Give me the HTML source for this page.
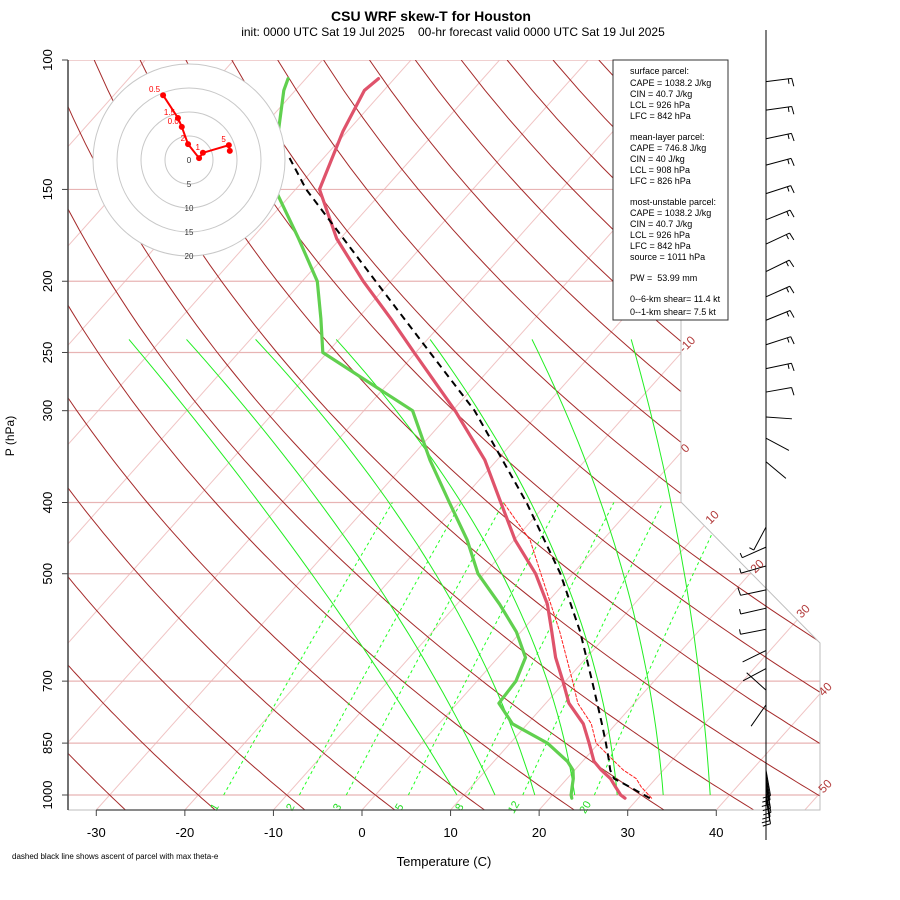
<!DOCTYPE html>
<html><head><meta charset="utf-8"><style>
html,body{margin:0;padding:0;background:#fff;}
svg{display:block;font-family:"Liberation Sans",sans-serif;}
</style></head><body>
<svg id="chart" width="900" height="900" viewBox="0 0 900 900" xmlns="http://www.w3.org/2000/svg">
<defs><clipPath id="plotclip"><polygon points="68,60 681,60 681,502 820,643 820,810 68,810"/></clipPath></defs>
<rect x="0" y="0" width="900" height="900" fill="#fff"/>
<g id="bg" clip-path="url(#plotclip)"></g>
<polyline points="681,60 681,502 820,643 820,810 68,810" fill="none" stroke="#bebebe" stroke-width="1"/>
<g id="labels"></g>
<g id="traces" clip-path="url(#plotclip)"></g>
<g id="axes"></g>
<g id="hodo"></g>
<g id="barbs"></g>

<text x="431" y="21" text-anchor="middle" font-size="14" font-weight="bold">CSU WRF skew-T for Houston</text>
<text x="453" y="36" text-anchor="middle" font-size="12" xml:space="preserve">init: 0000 UTC Sat 19 Jul 2025    00-hr forecast valid 0000 UTC Sat 19 Jul 2025</text>
<text x="444" y="866" text-anchor="middle" font-size="13">Temperature (C)</text>
<text x="0" y="0" transform="translate(14,436) rotate(-90)" text-anchor="middle" font-size="12">P (hPa)</text>
<text x="12" y="859" font-size="8">dashed black line shows ascent of parcel with max theta-e</text>

<g>
<rect x="613" y="60" width="115" height="260" fill="#fff" stroke="#333" stroke-width="1"/>
<g font-size="9" fill="#000">
<text x="630" y="74">surface parcel:</text>
<text x="630" y="86">CAPE = 1038.2 J/kg</text>
<text x="630" y="97">CIN = 40.7 J/kg</text>
<text x="630" y="108">LCL = 926 hPa</text>
<text x="630" y="119">LFC = 842 hPa</text>
<text x="630" y="140">mean-layer parcel:</text>
<text x="630" y="151">CAPE = 746.8 J/kg</text>
<text x="630" y="162">CIN = 40 J/kg</text>
<text x="630" y="173">LCL = 908 hPa</text>
<text x="630" y="184">LFC = 826 hPa</text>
<text x="630" y="205">most-unstable parcel:</text>
<text x="630" y="216">CAPE = 1038.2 J/kg</text>
<text x="630" y="227">CIN = 40.7 J/kg</text>
<text x="630" y="238">LCL = 926 hPa</text>
<text x="630" y="249">LFC = 842 hPa</text>
<text x="630" y="260">source = 1011 hPa</text>
<text x="630" y="281" xml:space="preserve">PW =  53.99 mm</text>
<text x="630" y="302">0--6-km shear= 11.4 kt</text>
<text x="630" y="315">0--1-km shear= 7.5 kt</text>
</g></g>

<script>
// ---- data ----
const pressureLevels = [100,150,200,250,300,400,500,700,850,1000];
const tempTicks = [-30,-20,-10,0,10,20,30,40];
const thetaLabels = [-10,0,10,20,30,40,50];
const mixRatios = [1,2,3,5,8,12,20];
const moistBottomT = [9.2,13.5,18.0,22.5,27.3,32.5,37.8];
const moistMidT = [-29.5,-22.9,-15.5,-8.0,-1.1,5.7,12.6];
const moistTopT = [-73.7,-67.2,-59.4,-50.3,-39.7,-28.2,-17.0];

const profP  = [1010,1000,975,950,925,900,850,800,750,700,650,600,550,500,450,400,350,300,250,225,200,175,150,125,110,106];
const profT  = [28.5,27.7,26.3,24.9,23.0,21.3,18.9,16.3,12.6,9.7,6.5,3.5,0.2,-4.2,-9.9,-15.3,-21.4,-29.7,-40.2,-46.2,-53.1,-60.4,-67.3,-70.5,-72.2,-71.8];
const profTd = [22.5,22.1,21.4,20.7,19.8,18.3,14.2,8.3,4.7,4.4,3.1,-0.5,-5.2,-10.7,-15.3,-21.1,-27.6,-34.5,-50.5,-54.1,-58.3,-64.7,-72.3,-77.8,-81.3,-82.0];

const parcelP = [1010,975,950,925,900,850,800,750,700,600,500,400,300,250,200,150,135];
const parcelT = [31.3,27.9,25.3,24.0,23.0,20.8,18.4,15.8,13.0,6.7,-1.4,-12.4,-27.5,-38.4,-51.7,-68.8,-74.2];

const virtP = [1010,975,950,925,900,850,800,750,700,600,500,450,400];
const virtT = [31.5,29.2,27.8,25.5,23.6,19.7,17.2,13.6,10.8,4.4,-3.6,-8.2,-15.0];

const hodoU = [8.5,8.3,2.9,2.1,-0.2,-1.5,-2.3,-5.4];
const hodoV = [1.9,3.1,1.5,0.4,3.3,6.9,8.75,13.5];
const hodoLabels = ["","5","1","","2","0.0","1.5","0.5"];
const hodoRings = [5,10,15,20];

const barbP   = [107,117,128,139,152,165,178,194,210,226,244,263,283,306,327,352,405,432,460,488,526,557,595,636,673,720,754,925,937,950,962,975,988,1000,1010];
const barbDir = [83,82,78,75,72,68,65,64,66,68,72,78,80,94,118,130,0,208,246,254,258,257,259,244,242,312,215,170,171,172,170,169,171,172,170];
const barbSpd = [15,15,15,15,15,15,15,15,15,15,15,15,10,3,3,3,3,5,5,5,10,5,5,3,3,3,3,10,10,10,10,10,10,10,10];

// ---- scales ----
const NS = "http://www.w3.org/2000/svg";
function P2Y(p){ return 60 + 319.2*Math.log(p/100); }
function TX(T,y){ return 362 + 8.857*T + 0.892*(810 - y); }
function mk(tag, attrs, parent){ const e=document.createElementNS(NS,tag); for(const k in attrs) e.setAttribute(k,attrs[k]); parent.appendChild(e); return e; }
const bg=document.getElementById('bg'), labels=document.getElementById('labels'), traces=document.getElementById('traces'), axes=document.getElementById('axes'), hodo=document.getElementById('hodo'), barbs=document.getElementById('barbs');

// isotherms
for(let T=-160; T<=60; T+=10){
  const l=mk('line',{x1:TX(T,810),y1:810,x2:TX(T,40),y2:40,stroke:'#f0c4c4','stroke-width':1},bg);
  
  
}
// pressure lines
pressureLevels.forEach(p=>{
  const y=P2Y(p);
  const l=mk('line',{x1:68,y1:y,x2:820,y2:y,stroke:'#e8b4b4','stroke-width':1.2},bg);
  
  
});
// dry adiabats
for(let th=-30; th<=200; th+=10){
  let pts=[];
  for(let p=1060; p>=95; p-=10){ const T=(th+273.15)*Math.pow(p/1000,0.2857)-273.15; const y=P2Y(p); pts.push(TX(T,y).toFixed(1)+','+y.toFixed(1)); }
  const l=mk('polyline',{points:pts.join(' '),fill:'none',stroke:'#a52a2a','stroke-width':1},bg);
  
  
}
// mixing ratio lines
function tdFromW(p,w){ const e=w*p/(622+w); const a=Math.log(e/6.112); return 243.5*a/(17.67-a); }
mixRatios.forEach(w=>{
  let pts=[];
  for(let p=1000;p>=400;p-=20){ const y=P2Y(p); pts.push(TX(tdFromW(p,w),y).toFixed(1)+','+y.toFixed(1)); }
  const l=mk('polyline',{points:pts.join(' '),fill:'none',stroke:'#22ff22','stroke-width':1,'stroke-dasharray':'3,3'},bg);
  
  
  const y0=P2Y(1000), x0=TX(tdFromW(1000,w),y0);
  const t=mk('text',{x:0,y:0,transform:`translate(${x0-6},${y0+14}) rotate(-60)`,'font-size':11,fill:'#22dd22','text-anchor':'middle'},labels);
  t.textContent=w;
  
  
});
// moist adiabats
moistBottomT.forEach((tb,i)=>{
  const ys=[P2Y(1000),P2Y(500),P2Y(240)];
  const xs=[TX(tb,ys[0]),TX(moistMidT[i],ys[1]),TX(moistTopT[i],ys[2])];
  let pts=[];
  for(let k=0;k<=40;k++){
    const y=ys[0]+(ys[2]-ys[0])*k/40;
    let x=0;
    for(let a=0;a<3;a++){ let L=1; for(let b=0;b<3;b++){ if(a!==b) L*=(y-ys[b])/(ys[a]-ys[b]); } x+=L*xs[a]; }
    pts.push(x.toFixed(1)+','+y.toFixed(1));
  }
  const l=mk('polyline',{points:pts.join(' '),fill:'none',stroke:'#22ee22','stroke-width':1},bg);
  
  
});
// theta labels
const thetaPos={'-10':[690,343],'0':[688,447],'10':[715,516],'20':[760,565],'30':[806,610],'40':[828,688],'50':[828,785]};
thetaLabels.forEach(th=>{
  const [x,y]=thetaPos[th];
  const t=mk('text',{x:0,y:0,transform:`translate(${x},${y+4}) rotate(-45)`,'font-size':12,fill:'#b23a3a','text-anchor':'middle'},labels);
  t.textContent=th;
  
  
});

// traces
function line(P,T,attrs,name){
  const pts=P.map((p,i)=>{ const y=P2Y(p); return TX(T[i],y).toFixed(1)+','+y.toFixed(1); });
  const l=mk('polyline',Object.assign({points:pts.join(' '),fill:'none','stroke-linejoin':'round','stroke-linecap':'round'},attrs),traces);
  
  
}
line(virtP,virtT,{stroke:'#ff2020','stroke-width':1,'stroke-dasharray':'3,2'},'parcel-virtual-temperature-line');
line(profP,profTd,{stroke:'#61D04F','stroke-width':3.2},'dewpoint-line');
line(profP,profT,{stroke:'#DF536B','stroke-width':3.2},'temperature-line');
line(parcelP,parcelT,{stroke:'#000','stroke-width':2,'stroke-dasharray':'7,5','stroke-linecap':'butt'},'parcel-ascent-line');

// axes
mk('line',{x1:68,y1:60,x2:68,y2:810,stroke:'#444','stroke-width':1.5},axes);
pressureLevels.forEach(p=>{
  const y=P2Y(p);
  mk('line',{x1:62,y1:y,x2:68,y2:y,stroke:'#444','stroke-width':1},axes);
  const t=mk('text',{x:0,y:0,transform:`translate(52,${y}) rotate(-90)`,'font-size':13,'text-anchor':'middle'},axes);
  t.textContent=p;
  
  
});
mk('line',{x1:TX(-30,810),y1:810,x2:TX(40,810),y2:810,stroke:'#444','stroke-width':1.2},axes);
tempTicks.forEach(T=>{
  const x=TX(T,810);
  mk('line',{x1:x,y1:810,x2:x,y2:816,stroke:'#444','stroke-width':1},axes);
  const t=mk('text',{x:x,y:837,'font-size':13,'text-anchor':'middle'},axes);
  t.textContent=T;
  
  
});

// hodograph
const HC=[189,160], HS=4.8;
mk('circle',{cx:HC[0],cy:HC[1],r:96,fill:'#fff',stroke:'none'},hodo);
hodoRings.forEach(r=>{
  const c=mk('circle',{cx:HC[0],cy:HC[1],r:r*HS,fill:'none',stroke:'#c8c8c8','stroke-width':1},hodo);
  
  
  const t=mk('text',{x:HC[0],y:HC[1]+r*HS+3,'font-size':8,'text-anchor':'middle',fill:'#333'},hodo);
  t.textContent=r;
});
{ const t=mk('text',{x:HC[0],y:HC[1]+3,'font-size':8,'text-anchor':'middle',fill:'#333'},hodo); t.textContent='0'; }
const hpts=hodoU.map((u,i)=>[HC[0]+u*HS, HC[1]-hodoV[i]*HS]);
{ const l=mk('polyline',{points:hpts.map(p=>p.join(',')).join(' '),fill:'none',stroke:'#ff0000','stroke-width':2},hodo);
  
   }
hpts.forEach((p,i)=>{
  const c=mk('circle',{cx:p[0],cy:p[1],r:3,fill:'#ff0000'},hodo);
  
  
  if(hodoLabels[i]){ const t=mk('text',{x:p[0]-3,y:p[1]-3,'font-size':8,'text-anchor':'end',fill:'#ff0000'},hodo); t.textContent=hodoLabels[i]; }
});

// wind barbs
mk('line',{x1:766,y1:30,x2:766,y2:840,stroke:'#000','stroke-width':1},barbs);
barbP.forEach((p,i)=>{
  const y=P2Y(p), x=766, d=barbDir[i]*Math.PI/180, L=26;
  const dx=Math.sin(d), dy=-Math.cos(d);
  const tx=x+dx*L, ty=y+dy*L;
  const g=mk('g',{stroke:'#000','stroke-width':1,fill:'none'},barbs);
  
  
  mk('line',{x1:x,y1:y,x2:tx,y2:ty},g);
  let s=barbSpd[i], k=0;
  const px=-dy, py=dx;
  while(s>=10){ const bx=tx-dx*k*3.5, by=ty-dy*k*3.5; mk('line',{x1:bx,y1:by,x2:bx+px*8+dx*1,y2:by+py*8+dy*1},g); s-=10; k++; }
  if(s>=5){ const bx=tx-dx*k*3.5, by=ty-dy*k*3.5; mk('line',{x1:bx,y1:by,x2:bx+px*5,y2:by+py*5},g); }
});
</script>
</svg>
</body></html>
